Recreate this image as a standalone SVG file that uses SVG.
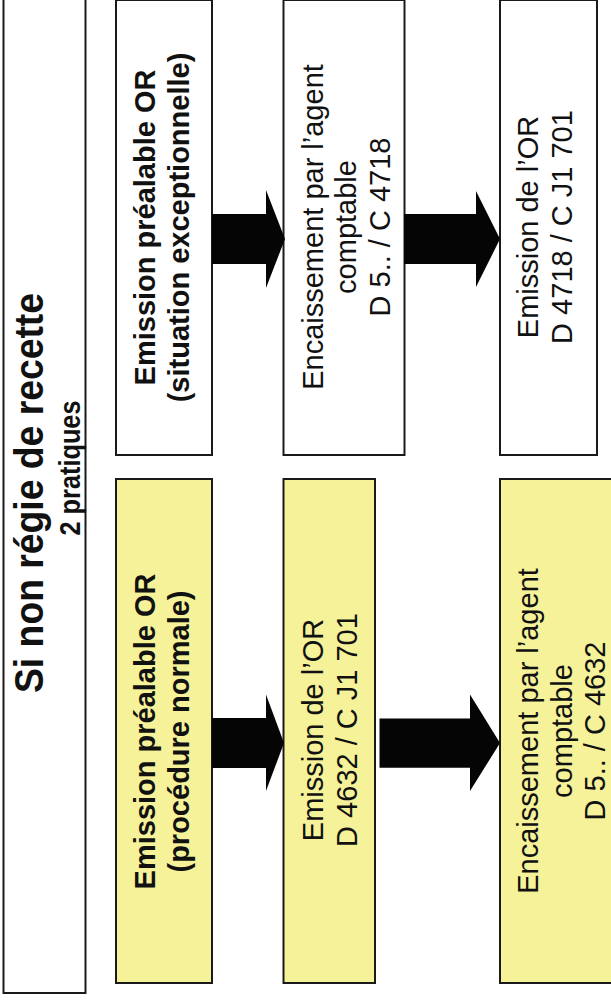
<svg xmlns="http://www.w3.org/2000/svg" width="611" height="1000" viewBox="0 0 611 1000">
<style>
.box{stroke:#1a1a1a;stroke-width:2;}
.w{fill:#ffffff;}
.y{fill:#f5f299;}
.t{font-family:"Liberation Sans",Arial,sans-serif;font-size:29px;fill:#111;text-anchor:middle;}
.b{font-weight:bold;}
.ti{font-family:"Liberation Sans Narrow","Liberation Sans",Arial,sans-serif;font-weight:bold;fill:#111;text-anchor:middle;}
.arr{fill:#050505;}
</style>
<rect width="611" height="1000" fill="#ffffff"/>
<g id="title">
<rect class="box w" x="3.5" y="-5" width="82" height="998"/>
<text class="ti" style="font-size:40px" transform="translate(0,493) rotate(-90)" x="0" y="43" textLength="400" lengthAdjust="spacingAndGlyphs">Si non régie de recette</text>
<text class="ti" style="font-size:29px" transform="translate(0,493) rotate(-90)" x="25" y="80" textLength="135" lengthAdjust="spacingAndGlyphs">2 pratiques</text>
</g>
<g id="n-exc">
<rect class="box w" x="116" y="0" width="96" height="455"/>
<text class="t b" transform="translate(0,227.5) rotate(-90)"><tspan x="0" y="155">Emission préalable OR</tspan><tspan x="0" y="189">(situation exceptionnelle)</tspan></text>
</g>
<g id="n-norm">
<rect class="box y" x="116" y="479" width="96" height="504"/>
<text class="t b" transform="translate(0,731.5) rotate(-90)"><tspan x="0" y="155">Emission préalable OR</tspan><tspan x="0" y="189">(procédure normale)</tspan></text>
</g>
<g id="n-enc1">
<rect class="box w" x="283.5" y="0" width="121" height="455"/>
<text class="t" transform="translate(0,227) rotate(-90)"><tspan x="0" y="322.7">Encaissement par l’agent</tspan><tspan x="0" y="356.3">comptable</tspan><tspan x="0" y="390">D 5.. / C 4718</tspan></text>
</g>
<g id="n-or1">
<rect class="box y" x="283.5" y="479" width="91.5" height="504"/>
<text class="t" transform="translate(0,730) rotate(-90)"><tspan x="0" y="322.7">Emission de l’OR</tspan><tspan x="0" y="356.7">D 4632 / C J1 701</tspan></text>
</g>
<g id="n-or2">
<rect class="box w" x="500" y="0" width="97" height="455"/>
<text class="t" transform="translate(0,227) rotate(-90)"><tspan x="0" y="538">Emission de l’OR</tspan><tspan x="0" y="572">D 4718 / C J1 701</tspan></text>
</g>
<g id="n-enc2">
<rect class="box y" x="500" y="479" width="125" height="504"/>
<text class="t" transform="translate(0,731) rotate(-90)"><tspan x="0" y="538">Encaissement par l’agent</tspan><tspan x="0" y="572">comptable</tspan><tspan x="0" y="605">D 5.. / C 4632</tspan></text>
</g>
<g id="connectors">
<polygon class="arr" points="212,214 266,214 266,190 285,239 266,288 266,264 212,264"/>
<polygon class="arr" points="404,214 476,214 476,191 500,239 476,287 476,264 404,264"/>
<polygon class="arr" points="212,718 266,718 266,694.5 284,743 266,791 266,768 212,768"/>
<polygon class="arr" points="379.5,718.5 470,718.5 470,694.5 500,743 470,791 470,767.7 379.5,767.7"/>
</g>
</svg>
